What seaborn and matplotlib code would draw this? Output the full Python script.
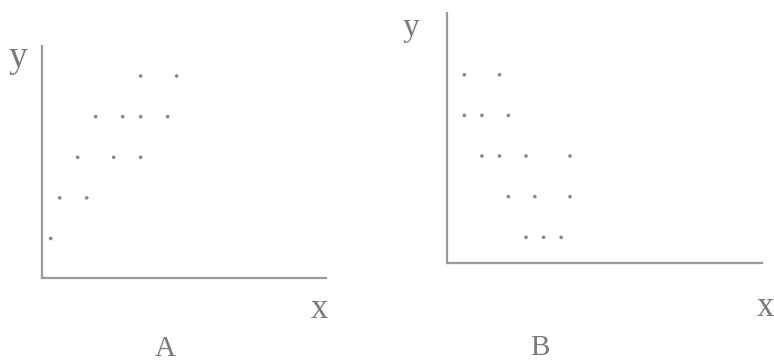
import matplotlib
matplotlib.use("Agg")
import matplotlib.pyplot as plt
import seaborn as sns
import pandas as pd

# Panel A data (grid units)
a_x = [1, 2, 5, 4, 8, 11, 6, 9, 11, 14, 11, 15]
a_y = [1, 2, 2, 3, 3, 3, 4, 4, 4, 4, 5, 5]

# Panel B data (grid units)
b_x = [9, 11, 13, 7, 10, 14, 4, 6, 9, 14, 2, 4, 7, 2, 6]
b_y = [1, 1, 1, 2, 2, 2, 3, 3, 3, 3, 4, 4, 4, 5, 5]

panel_labels = ["A", "B"]

sns.set_style("white")
plt.rcParams['font.family'] = ['Liberation Serif', 'DejaVu Serif']

W, H = 774, 363
fig = plt.figure(figsize=(W / 100, H / 100), dpi=100)

def px_axes(x0, y_top, x1, y_bot):
    return fig.add_axes([x0 / W, 1 - y_bot / H, (x1 - x0) / W, (y_bot - y_top) / H])

axA = px_axes(41.7, 46, 326, 277.5)
axB = px_axes(446.7, 13, 762, 263.3)

dfA = pd.DataFrame({"x": a_x, "y": a_y})
dfB = pd.DataFrame({"x": b_x, "y": b_y})

dot_color = "#8a8a8a"
line_color = "#9a9a9a"
text_color = "#7a7a7a"

sns.scatterplot(data=dfA, x="x", y="y", ax=axA, s=7, color=dot_color, edgecolor="none")
sns.scatterplot(data=dfB, x="x", y="y", ax=axB, s=7, color=dot_color, edgecolor="none")

axA.set_xlim(0, 31.6)
axA.set_ylim(0.04, 5.74)
axB.set_xlim(0, 35.8)
axB.set_ylim(0.36, 6.52)

for ax in (axA, axB):
    sns.despine(ax=ax)
    for side in ("left", "bottom"):
        ax.spines[side].set_color(line_color)
        ax.spines[side].set_linewidth(1.6)
    ax.set_xticks([])
    ax.set_yticks([])
    ax.set_xlabel("")
    ax.set_ylabel("")
    ax.patch.set_alpha(0)

def ftext(x, y, s, size):
    fig.text(x / W, 1 - y / H, s, ha="center", va="center", fontsize=size, color=text_color)

ftext(18, 58, "y", 27)
ftext(411, 28, "y", 24)
ftext(319, 309, "x", 25)
ftext(765, 308, "x", 25)
ftext(165, 349, panel_labels[0], 21)
ftext(540, 348, panel_labels[1], 21)

fig.savefig("out.png", dpi=100)
